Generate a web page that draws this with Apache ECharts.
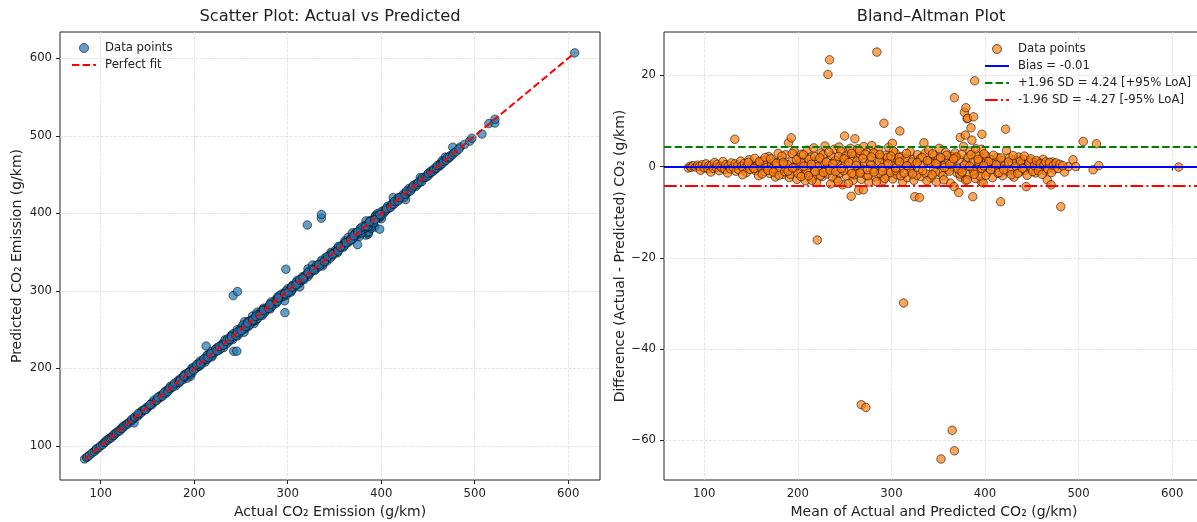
<!DOCTYPE html>
<html>
<head>
<meta charset="utf-8">
<title>Actual vs Predicted / Bland–Altman</title>
<script src="https://cdn.jsdelivr.net/npm/echarts/dist/echarts.min.js"></script>
<style>
  html, body { margin: 0; padding: 0; background: #fff; }
  #chart { width: 1197px; height: 522px; }
</style>
</head>
<body>
<div id="chart"></div>
<script>
// Bland-Altman points: x = mean of actual & predicted, y = actual - predicted
const meanVals = [
  83, 85, 86, 88, 91, 93, 95, 96, 98, 100,
  102, 104, 105, 107, 108, 110, 111, 113, 114, 116,
  117, 119, 120, 122, 123, 125, 126, 128, 129, 131,
  132.7, 133, 134, 136, 137, 139, 140, 142, 143, 145,
  146, 148, 149, 151, 152, 154, 155, 157, 158, 160,
  161, 163, 164, 166, 167, 169, 170, 172, 173, 175,
  176, 178, 179, 181, 182, 184, 185, 187, 188, 190,
  191, 193, 193.5, 195, 196, 198, 199, 201, 202, 204,
  205, 207, 208, 210, 211, 213, 214, 216, 217, 219,
  220, 220.8, 222, 223, 225, 226, 228, 229, 231, 232.2,
  233.9, 232.5, 235, 236, 238, 239, 241, 242, 244, 245,
  247, 248, 250, 250.5, 252, 253, 255, 256, 257, 258,
  259, 261, 261.5, 262, 264, 265, 265.5, 267, 267.8, 268,
  270, 270.5, 271, 272.7, 273, 274, 276, 277, 279, 280,
  282, 283, 284.5, 285, 286, 288, 289, 291, 292, 292.5,
  294, 295, 297, 298, 300, 301, 301.5, 303, 304, 306,
  307, 309, 309.5, 311, 312, 313, 314, 315, 317, 318,
  320, 321, 323, 324, 325, 326, 328, 329, 330, 331,
  332, 334, 334.7, 336, 337, 339, 340, 342, 343, 345,
  346, 348, 349, 351, 352, 353, 354, 355, 357, 358,
  360, 361, 363, 364, 364.9, 366, 367, 367.3, 368, 370,
  367.2, 372, 373.5, 379, 378, 379.6, 380.8, 381.5, 387.8, 385,
  386, 387, 389, 396, 396.7, 396.2, 372.5, 374, 375, 376,
  377, 379.3, 380, 382, 383, 384, 386.5, 388, 389.5, 391,
  392, 394, 395, 397, 398, 400, 402, 403, 405, 407,
  408, 410, 411, 413, 414, 416, 416.7, 418, 419, 421,
  422, 423, 424, 426, 427, 429, 431, 432, 434, 436,
  437, 439, 441, 443, 444, 446, 448, 450, 452, 454,
  456, 458, 460, 462, 464, 466.5, 468, 470.6, 472, 474,
  481, 485, 489, 494, 497, 505, 515.5, 519, 521.6, 607,
  141, 147, 153, 159, 162, 165, 168, 171, 174, 177,
  180, 183, 186, 189, 192, 194, 197, 200, 203, 206,
  209, 212, 215, 218, 221, 224, 227, 230, 233, 237,
  240, 243, 246, 249, 251, 254, 257.5, 260, 263, 266,
  269, 272, 275, 278, 281, 284, 287, 290, 293, 296,
  299, 302, 305, 308, 310, 316, 319, 322, 327, 333,
  338, 341, 344, 347, 350, 356, 359, 362, 365, 369,
  373, 378, 381, 385, 387.5, 390, 393, 396.5, 399, 401,
  404, 406, 409, 412, 415, 417, 420, 425, 428, 430,
  433, 435, 438, 440, 442, 445, 447, 449, 451, 453,
  455, 457, 459, 461, 463, 465, 467, 469, 471, 473,
  476, 478, 480, 483,
  184.5, 189.5, 194.5, 198.5, 203.5, 206.5, 211.5, 214.5, 218.5, 223.5,
  227.5, 230.5, 234.5, 237.5, 240.5, 243.5, 246.5, 249.5, 254.5, 257.8,
  262.5, 266.5, 269.5, 274.5, 278.5, 281.5, 287.5, 290.5, 296.5, 299.5,
  304.5, 308.5, 313.5, 316.5, 322.5, 327.5, 333.5, 338.5, 343.5, 347.5,
  352.5, 356.5, 362.5, 366.5, 371, 375.5, 383.5, 388.5, 392.5, 398.5
]
const diffVals = [
  -0.3, 0.1, -0.2, 0.2, -0.1, 0.3, 0.0, -0.8, 0.4, -0.3,
  0.6, -0.5, 0.2, -1.2, 0.3, -0.4, 0.9, -0.2, 0.5, -0.9,
  0.1, -0.3, 1.1, -0.6, 0.4, -1.4, 0.2, -0.5, 0.8, -0.2,
  6.0, 0.6, -1.0, 0.3, -0.7, 1.2, 0.1, -0.4, 0.7, -1.3,
  0.2, 1.5, -0.6, 0.4, -0.1, 1.8, -0.9, 0.3, -2.0, 0.9,
  -0.3, 1.4, -1.1, 0.5, -0.2, 2.2, -1.5, 0.6, -0.4, 1.0,
  -2.3, 0.2, 2.9, -0.8, 1.3, -1.7, 0.4, 2.6, -0.5, 5.2,
  -2.4, 6.3, 1.1, -1.0, 3.4, 0.3, -2.8, 1.9, -0.6, 2.7,
  -1.9, 0.8, -3.1, 3.6, 0.2, -1.3, 2.1, -2.5, 4.1, 0.6,
  -3.5, -16.1, 1.4, -0.9, 3.0, -2.2, 0.5, 4.5, -1.6, 20.2,
  23.4, 1.2, -3.8, 2.4, -0.3, 3.8, -2.6, 0.9, 4.3, -1.4,
  2.0, -4.0, 6.7, 0.4, -2.1, 3.2, -0.7, 4.0, -6.5, 1.5,
  -3.0, 6.1, 2.6, -1.2, 3.9, -5.2, 0.1, 2.3, -52.2, -2.8,
  -5.1, 4.4, 0.8, -52.8, -1.9, 3.1, -3.4, 1.0, 4.6, -0.5,
  2.8, -2.3, 25.1, 0.3, 3.7, -1.5, 1.9, -3.1, 9.5, 0.7,
  2.5, -2.0, 4.2, -0.8, 1.6, 5.1, -2.7, 0.2, 3.0, -1.8,
  1.3, 7.8, -0.4, 2.2, -3.3, -29.9, 0.9, 1.7, -2.4, 0.1,
  3.3, -1.1, 1.5, -3.0, -6.6, 0.6, 2.6, -0.9, -6.8, 1.8,
  -2.2, 0.4, 5.2, 2.9, -1.6, 0.8, 3.6, -2.5, 1.2, -0.6,
  2.4, -3.4, 0.5, 4.0, -1.3, -64.1, 1.9, -2.0, 0.3, 3.1,
  -0.7, 1.4, -3.6, 2.2, -57.8, 0.0, -4.4, -62.3, 3.0, -1.4,
  15.1, -5.7, 6.4, 6.9, 11.9, 12.9, 10.5, 10.6, 10.9, 8.5,
  5.8, -6.6, 18.8, -3.3, 7.1, 3.8, 1.6, -2.3, 2.7, -0.2,
  4.4, -3.0, 0.9, 2.0, -1.7, 3.4, -0.4, 1.2, -2.6, 2.5,
  -0.9, 0.4, -2.1, 1.8, -3.6, 0.7, 2.2, -1.2, 0.3, 1.5,
  -2.4, 0.9, -0.3, 2.0, -1.5, 0.6, -7.7, 1.3, -2.0, 0.2,
  8.2, 3.5, -1.0, 1.9, -0.5, 0.8, -2.3, 1.4, -0.2, 2.1,
  -1.2, 0.5, 1.6, -0.8, -4.4, 0.3, 1.2, -0.6, 0.9, -1.4,
  0.4, 1.0, -0.3, 1.6, -0.9, -2.9, 0.6, -4.0, 1.0, -0.6,
  -8.8, -1.2, 0.0, 1.5, 0.0, 5.5, -0.7, 5.0, 0.2, -0.1,
  -1.8, 0.9, -0.4, 1.1, -1.6, 2.0, -0.8, 1.7, -1.2, 0.7,
  -1.9, 2.3, -1.1, 0.4, -1.7, 2.9, -0.2, -1.5, 0.9, 2.6,
  -0.8, 1.6, -3.0, 2.2, 0.0, -2.0, 2.6, -0.5, 3.2, -2.3,
  1.3, -3.2, 3.4, -0.9, 2.3, -3.7, 2.9, -1.8, 1.2, 3.5,
  -0.6, 2.7, -2.0, 0.4, 3.0, -3.3, 1.1, -0.2, -2.6, 2.0,
  -1.3, 3.4, -0.9, 2.0, -2.0, 2.9, -0.5, 1.0, -1.9, 2.0,
  -3.1, 0.9, 2.8, -1.2, 1.6, -2.9, 2.5, -1.0, 1.1, 2.1,
  -1.6, 0.3, -2.9, 2.6, -1.0, 3.9, 1.1, -0.4, 2.8, -1.9,
  1.1, -0.7, 2.5, 0.4, -1.3, 1.9, -0.7, 1.0, -1.8, 2.4,
  0.1, -1.5, 1.2, -0.4, 2.3, -1.9, 0.8, 1.7, -1.1, 0.2,
  1.3, -0.9, 0.6, -1.7, 0.4, 1.0, -0.5, 0.9, -1.3, 0.3,
  0.8, -0.4, 0.5, 0.2,
  0.9, -1.0, -0.3, 1.5, -2.2, 0.1, -2.0, 0.5, -1.1, 1.9,
  -1.3, 1.0, -0.8, 0.6, -1.1, 2.2, -0.4, 1.7, 0.9, -1.5,
  0.3, -1.4, 1.8, -0.7, 2.1, -1.2, 2.6, -1.0, 0.6, 2.3,
  -0.3, 1.0, -1.4, 0.2, -1.6, 0.9, -0.9, 1.3, -1.8, 0.7,
  2.0, -0.2, 0.5, 1.7, -0.5, -1.2, 0.1, -1.7, 1.6, 0.2
]

// summary statistics shown in the legend
const bias = -0.01
const loaUpper = 4.24
const loaLower = -4.27

// tick labels
const xTicks = [100, 200, 300, 400, 500, 600]
const yTicksScatter = [100, 200, 300, 400, 500, 600]
const yTicksBA = [-60, -40, -20, 0, 20]

// back to actual / predicted pairs for the left panel
const actualVals = meanVals.map((m, i) => m + diffVals[i] / 2)
const predictedVals = meanVals.map((m, i) => m - diffVals[i] / 2)

const scatterData = actualVals.map((a, i) => [a, predictedVals[i]])
const baData = meanVals.map((m, i) => [m, diffVals[i]])
const lo = Math.min(...actualVals)
const hi = Math.max(...actualVals)

const FONT = 'DejaVu Sans'
const INK = '#222'

function fmtMinus (v) {
  return String(v).replace('-', '\u2212')
}

// shared matplotlib-like axis look
function makeAxis (opt) {
  return {
    type: 'value',
    gridIndex: opt.grid,
    min: opt.min,
    max: opt.max,
    name: opt.name,
    nameLocation: 'middle',
    nameGap: opt.nameGap,
    nameTextStyle: { fontFamily: FONT, fontSize: 14, color: INK },
    axisLine: { show: false },
    axisTick: {
      show: true, length: 4, inside: false,
      lineStyle: { color: INK, width: 1 },
      customValues: opt.ticks
    },
    axisLabel: {
      fontFamily: FONT, fontSize: 11.7, color: INK, margin: 8,
      customValues: opt.ticks,
      formatter: fmtMinus
    },
    splitLine: {
      show: true,
      lineStyle: { color: '#dcdcdc', width: 0.8, type: [3, 1.5] }
    }
  }
}

const chart = echarts.init(document.getElementById('chart'))

const legendText = { fontFamily: FONT, fontSize: 11.7, color: INK, lineHeight: 12, padding: [0, 0, 0, 4] }
// legend markers: the 0.7-alpha colours already blended on white
const blueDot = { color: '#62a0cb', borderColor: '#333', borderWidth: 0.8, opacity: 1 }
const orangeDot = { color: '#ffa556', borderColor: '#333', borderWidth: 0.8, opacity: 1 }

const option = {
  animation: false,
  backgroundColor: '#ffffff',
  title: [
    { text: 'Scatter Plot: Actual vs Predicted', left: 330, top: 9, padding: 0, textAlign: 'center',
      textStyle: { fontFamily: FONT, fontSize: 16.3, fontWeight: 'normal', color: INK } },
    { text: 'Bland–Altman Plot', left: 931, top: 9, padding: 0, textAlign: 'center',
      textStyle: { fontFamily: FONT, fontSize: 16.3, fontWeight: 'normal', color: INK } }
  ],
  grid: [
    { left: 60, top: 32, width: 540, height: 448, outerBoundsMode: 'none', containLabel: false,
      show: true, borderColor: INK, borderWidth: 1, backgroundColor: 'transparent' },
    // the right panel runs a little past the picture's edge, like the source image
    { left: 664, top: 32, width: 540, height: 448, outerBoundsMode: 'none', containLabel: false,
      show: true, borderColor: INK, borderWidth: 1, backgroundColor: 'transparent' }
  ],
  xAxis: [
    makeAxis({ grid: 0, min: 56.5, max: 634, ticks: xTicks, name: 'Actual CO₂ Emission (g/km)', nameGap: 24 }),
    makeAxis({ grid: 1, min: 57, max: 634, ticks: xTicks, name: 'Mean of Actual and Predicted CO₂ (g/km)', nameGap: 24 })
  ],
  yAxis: [
    makeAxis({ grid: 0, min: 56, max: 634, ticks: yTicksScatter, name: 'Predicted CO₂ Emission (g/km)', nameGap: 36 }),
    makeAxis({ grid: 1, min: -68.7, max: 29.5, ticks: yTicksBA, name: 'Difference (Actual - Predicted) CO₂ (g/km)', nameGap: 37 })
  ],
  legend: [
    {
      orient: 'vertical', left: 66, top: 37,
      itemWidth: 24, itemHeight: 9, itemGap: 5,
      textStyle: legendText,
      data: [
        { name: 'Data points', icon: 'circle', itemStyle: blueDot },
        { name: 'Perfect fit', itemStyle: { opacity: 0 } }
      ]
    },
    {
      orient: 'vertical', left: 979, top: 38,
      itemWidth: 24, itemHeight: 9, itemGap: 5,
      textStyle: legendText,
      data: [
        { name: 'Data points ', icon: 'circle', itemStyle: orangeDot },
        { name: 'Bias = ' + bias, itemStyle: { opacity: 0 } },
        { name: '+1.96 SD = ' + loaUpper + ' [+95% LoA]', itemStyle: { opacity: 0 } },
        { name: '-1.96 SD = ' + loaLower + ' [-95% LoA]', itemStyle: { opacity: 0 } }
      ]
    }
  ],
  series: [
    {
      name: 'Data points',
      type: 'scatter',
      xAxisIndex: 0, yAxisIndex: 0,
      symbolSize: 8.5,
      itemStyle: { color: '#1f77b4', borderColor: '#000', borderWidth: 0.8, opacity: 0.7 },
      data: scatterData,
      z: 2
    },
    {
      name: 'Perfect fit',
      type: 'line',
      xAxisIndex: 0, yAxisIndex: 0,
      symbol: 'none',
      lineStyle: { color: '#ff0000', width: 2, type: [7.4, 3.2] },
      data: [[lo, lo], [hi, hi]],
      z: 3
    },
    {
      name: 'Data points ',
      type: 'scatter',
      xAxisIndex: 1, yAxisIndex: 1,
      symbolSize: 8.5,
      itemStyle: { color: '#ff7f0e', borderColor: '#000', borderWidth: 0.8, opacity: 0.7 },
      data: baData,
      z: 2
    },
    {
      name: 'Bias = ' + bias,
      type: 'line',
      xAxisIndex: 1, yAxisIndex: 1,
      symbol: 'none',
      lineStyle: { color: '#0000ff', width: 2, type: 'solid' },
      data: [],
      z: 3,
      markLine: {
        silent: true, symbol: 'none', label: { show: false },
        lineStyle: { color: '#0000ff', width: 2, type: 'solid' },
        data: [{ yAxis: bias }]
      }
    },
    {
      name: '+1.96 SD = ' + loaUpper + ' [+95% LoA]',
      type: 'line',
      xAxisIndex: 1, yAxisIndex: 1,
      symbol: 'none',
      lineStyle: { color: '#008000', width: 2, type: [7.4, 3.2] },
      data: [],
      z: 3,
      markLine: {
        silent: true, symbol: 'none', label: { show: false },
        lineStyle: { color: '#008000', width: 2, type: [7.4, 3.2] },
        data: [{ yAxis: loaUpper }]
      }
    },
    {
      name: '-1.96 SD = ' + loaLower + ' [-95% LoA]',
      type: 'line',
      xAxisIndex: 1, yAxisIndex: 1,
      symbol: 'none',
      lineStyle: { color: '#ff0000', width: 2, type: [12.8, 3.2, 2, 3.2] },
      data: [],
      z: 3,
      markLine: {
        silent: true, symbol: 'none', label: { show: false },
        lineStyle: { color: '#ff0000', width: 2, type: [12.8, 3.2, 2, 3.2] },
        data: [{ yAxis: loaLower }]
      }
    }
  ]
}

chart.setOption(option)
</script>
</body>
</html>
